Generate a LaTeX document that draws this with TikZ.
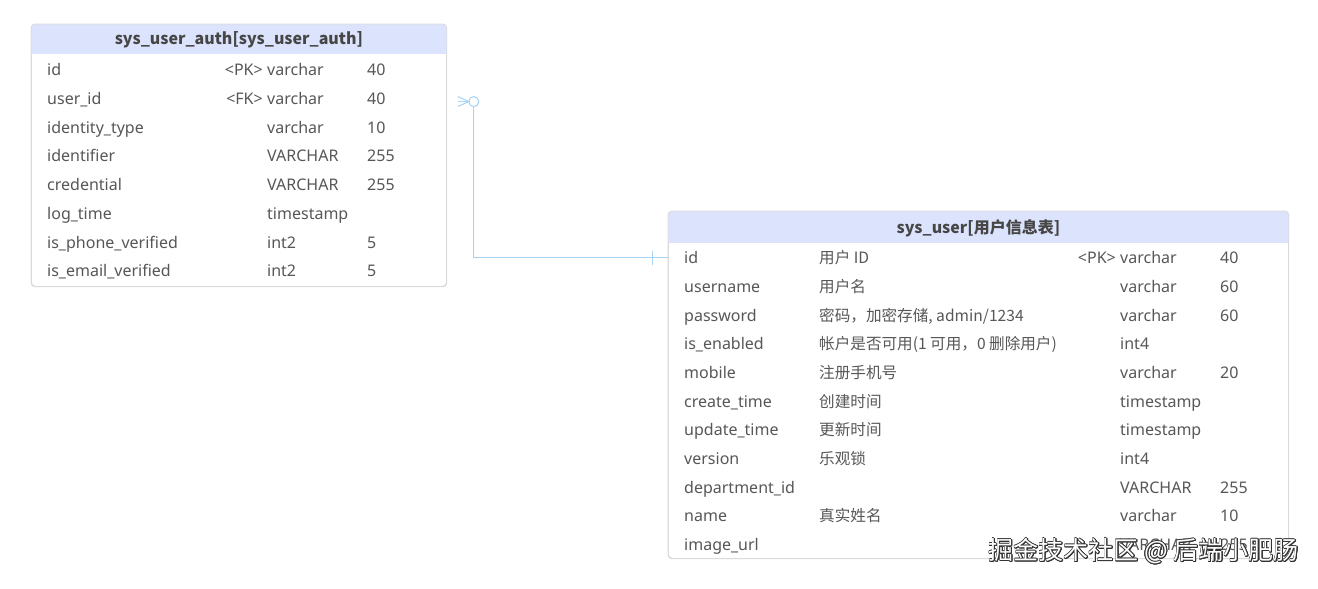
\documentclass[tikz,border=0pt]{standalone}
\usepackage{fontspec}
\setmainfont{Noto Sans}
\newfontfamily\cjk{Noto Sans CJK SC}
\usepackage{contour}
\contourlength{0.7pt}

\definecolor{hdblue}{HTML}{DCE3FC}
\definecolor{linkblue}{HTML}{A6D3F3}
\definecolor{txtgray}{HTML}{575757}
\definecolor{boxgray}{HTML}{DADADA}

\begin{document}
\begin{tikzpicture}[
  x=1pt, y=-1pt,
  cell/.style={anchor=mid west, inner sep=0pt, text=txtgray,
              font=\fontsize{16}{18}\selectfont},
  keycell/.style={cell, anchor=mid east},
  title/.style={anchor=mid, inner sep=0pt, text=txtgray!80!black,
               font=\cjk\bfseries\fontsize{16}{18}\selectfont},
  tbl/.style={rectangle, draw=boxgray, fill=white, rounded corners=4pt,
             line width=0.8pt, anchor=north west, inner sep=0pt},
  link/.style={draw=linkblue, line width=1pt}
]
\useasboundingbox (0,0) rectangle (1318,589);

% sys_user_auth table
\node[tbl, minimum width=415pt, minimum height=262pt] (auth) at (31,24) {};
\begin{scope}
  \clip[rounded corners=4pt] (auth.north west) rectangle (auth.south east);
  \fill[hdblue] (auth.north west) rectangle ([yshift=-30pt]auth.north east);
\end{scope}
\draw[boxgray, line width=0.8pt, rounded corners=4pt] (auth.north west) rectangle (auth.south east);
\node[title] (auth-title) at ([yshift=-18pt]auth.north) {sys\_user\_auth[sys\_user\_auth]};

\foreach [count=\i] \n/\k/\t/\l in {
  id/<PK>/varchar/40,
  user\_id/<FK>/varchar/40,
  identity\_type//varchar/10,
  identifier//VARCHAR/255,
  credential//VARCHAR/255,
  log\_time//timestamp/,
  is\_phone\_verified//int2/5,
  is\_email\_verified//int2/5} {
  \pgfmathsetmacro\y{73+28.73*(\i-1)}
  \node[cell] (auth-n\i) at (47,\y) {\n};
  \node[keycell] (auth-k\i) at (263,\y) {\k};
  \node[cell] (auth-t\i) at (267,\y) {\t};
  \node[cell] (auth-l\i) at (367,\y) {\l};
}

% sys_user table
\node[tbl, minimum width=620pt, minimum height=347pt] (user) at (668,211) {};
\begin{scope}
  \clip[rounded corners=4pt] (user.north west) rectangle (user.south east);
  \fill[hdblue] (user.north west) rectangle ([yshift=-32pt]user.north east);
\end{scope}
\draw[boxgray, line width=0.8pt, rounded corners=4pt] (user.north west) rectangle (user.south east);
\node[title] (user-title) at ([yshift=-20pt]user.north) {sys\_user[用户信息表]};

\foreach [count=\i] \n/\c/\k/\t/\l in {
  id/{用户 ID}/<PK>/varchar/40,
  username/用户名//varchar/60,
  password/{密码，加密存储, admin/1234}//varchar/60,
  is\_enabled/{帐户是否可用(1 可用，0 删除用户)}//int4/,
  mobile/注册手机号//varchar/20,
  create\_time/创建时间//timestamp/,
  update\_time/更新时间//timestamp/,
  version/乐观锁//int4/,
  department\_id///VARCHAR/255,
  name/真实姓名//varchar/10,
  image\_url///VARCHAR/255} {
  \pgfmathsetmacro\y{261+28.7*(\i-1)}
  \node[cell] (user-n\i) at (684,\y) {\n};
  \node[cell, font=\cjk\fontsize{15.6}{18}\selectfont] (user-c\i) at (819,\y) {\c};
  \node[keycell] (user-k\i) at (1116,\y) {\k};
  \node[cell] (user-t\i) at (1120,\y) {\t};
  \node[cell] (user-l\i) at (1220,\y) {\l};
}

% relation sys_user_auth.user_id -> sys_user.id
\coordinate (ftoe) at ([xshift=11pt, yshift=-2pt]auth.east |- auth-n2);
\coordinate (uend) at (user.west |- user-n1);
\draw[link] (ftoe) ++(0,-5) -- ++(11,5) -- ++(-11,5);
\draw[link] (ftoe) -- ++(11,0);
\draw[link] ([xshift=16pt]ftoe) circle (5pt);
\draw[link] ([xshift=16pt, yshift=-5pt]ftoe) |- (uend);
\draw[link] ([xshift=-16pt]uend) ++(0,-7) -- ++(0,14);

% watermark
\node[anchor=mid east, inner sep=0pt, font=\cjk\fontsize{25}{28}\selectfont] (mark) at (1299,557)
  {\contour{black!80}{\textcolor{white}{掘金技术社区 @ 后端小肥肠}}};
\end{tikzpicture}
\end{document}
